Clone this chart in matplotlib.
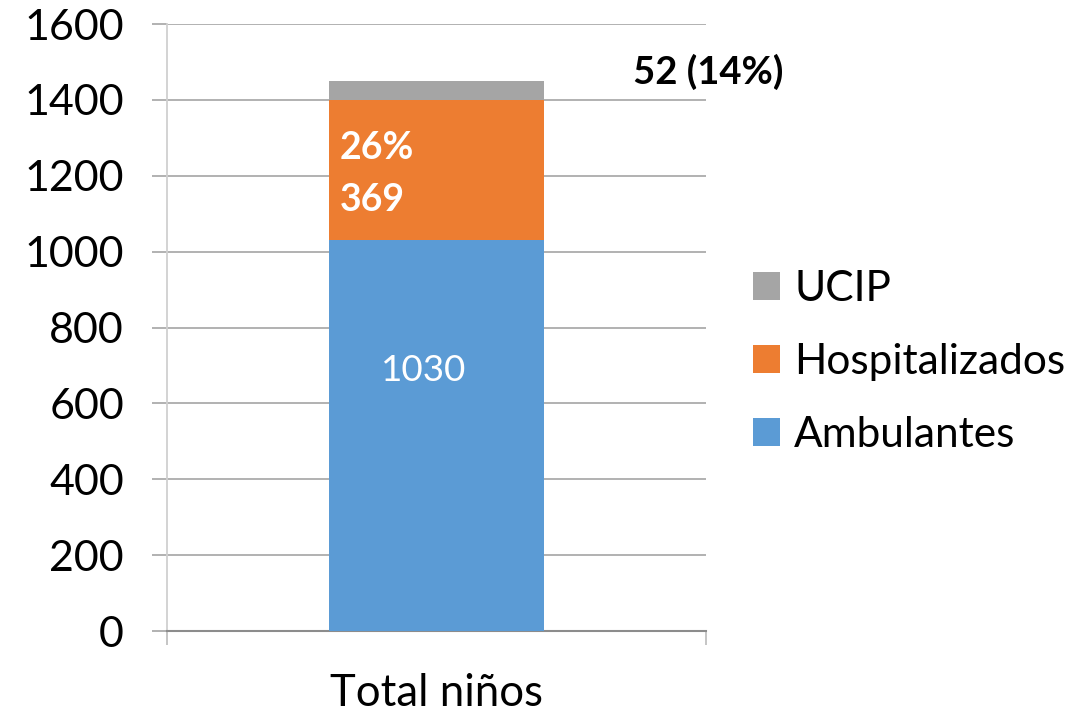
import matplotlib.pyplot as plt
from matplotlib.ticker import FixedLocator

# data
category = ["Total niños"]
ambulantes = [1030]
hospitalizados = [369]
ucip = [52]

plt.rcParams["font.family"] = ["Lato", "DejaVu Sans"]

c_blue = "#5B9BD5"
c_orange = "#ED7D31"
c_gray = "#A5A5A5"
grid_c = "#ABABAB"
axis_c = "#8C8C8C"

fig = plt.figure(figsize=(10.74, 7.14), dpi=100)
ax = fig.add_axes([0.1555, 0.1162, 0.5019, 0.8501])

x = [0]
ax.bar(x, ambulantes, width=0.4, color=c_blue, label="Ambulantes", zorder=3)
ax.bar(x, hospitalizados, width=0.4, bottom=ambulantes, color=c_orange,
       label="Hospitalizados", zorder=3)
bottom2 = [a + h for a, h in zip(ambulantes, hospitalizados)]
ax.bar(x, ucip, width=0.4, bottom=bottom2, color=c_gray, label="UCIP", zorder=3)

ax.set_xlim(-0.5, 0.5)
ax.set_ylim(0, 1600)
ax.set_yticks(range(0, 1601, 200))
ax.yaxis.grid(True, color=grid_c, linewidth=1.3, zorder=0)

for s in ["top", "right"]:
    ax.spines[s].set_visible(False)
ax.spines["left"].set_color("#D0D0D0")
ax.spines["left"].set_linewidth(1.3)
ax.spines["bottom"].set_color(axis_c)
ax.spines["bottom"].set_linewidth(1.5)

ax.tick_params(axis="y", direction="out", length=11, width=1.3,
               color=grid_c, labelsize=31, pad=20)
ax.set_xticks(x)
ax.set_xticklabels(category)
ax.tick_params(axis="x", which="major", length=0, labelsize=31.5, pad=30)
ax.xaxis.set_minor_locator(FixedLocator([-0.5, 0.5]))
ax.tick_params(axis="x", which="minor", direction="out", length=10,
               width=1.3, color="#C0C0C0")

# labels
ax.text(-0.023, 688, "1030", color="white", fontsize=26.5, ha="center", va="center", zorder=4)
ax.text(-0.18, 1273, "26%", color="white", fontsize=27, fontweight="bold",
        ha="left", va="center", zorder=4)
ax.text(-0.18, 1136, "369", color="white", fontsize=27, fontweight="bold",
        ha="left", va="center", zorder=4)
ax.text(0.504, 1473, "52 (14%)", color="black", fontsize=27.5, fontweight="bold",
        ha="center", va="center", zorder=4, clip_on=False)

handles, labels = ax.get_legend_handles_labels()
leg = fig.legend(handles[::-1], labels[::-1], loc="center left",
                 bbox_to_anchor=(0.6815, 0.493), frameon=False, fontsize=30.5,
                 handlelength=0.64, handleheight=0.64, handletextpad=0.33,
                 labelspacing=0.83, borderpad=0)

fig.savefig("out.png", dpi=100)
